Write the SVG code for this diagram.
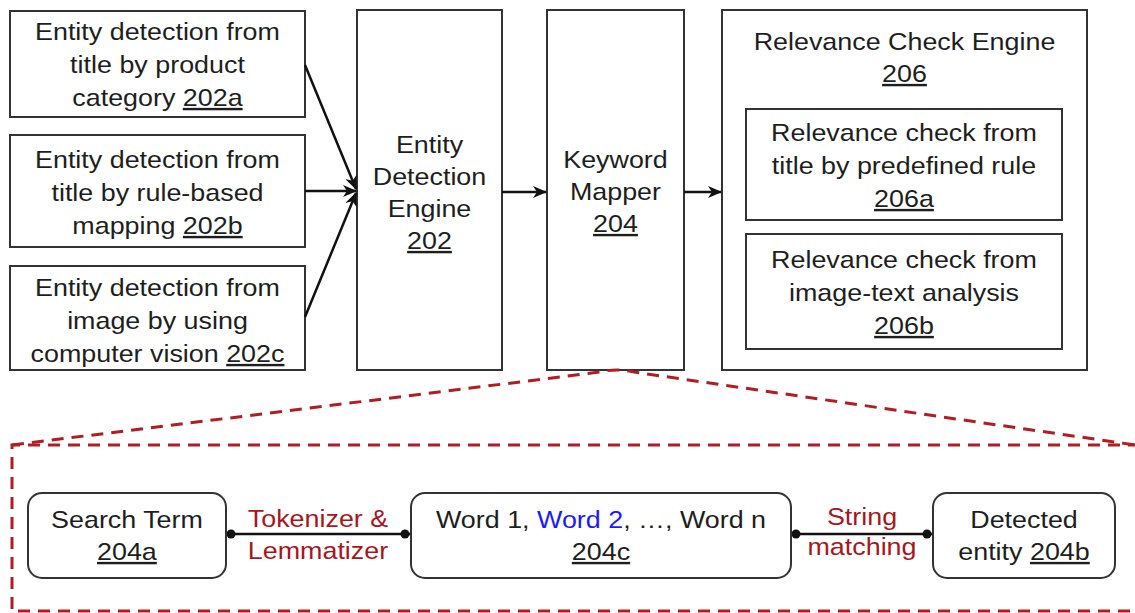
<svg xmlns="http://www.w3.org/2000/svg" width="1135" height="613" viewBox="0 0 1135 613">
<style>
text{font-family:"Liberation Sans",Arial,sans-serif;font-size:24px;fill:#1e1e1e;text-anchor:middle;transform-box:fill-box;transform-origin:center;transform:scaleX(1.12)}
.box{fill:#fff;stroke:#333;stroke-width:2}
.rbox{fill:#fff;stroke:#333;stroke-width:2}
.arr{fill:none;stroke:#111;stroke-width:2.5;marker-end:url(#ah)}
.red{fill:#a8161d}
.dash{fill:none;stroke:#b11d22;stroke-width:3;stroke-dasharray:12 8}
.link{stroke:#111;stroke-width:2.5}
.dot{fill:#111}
.u{text-decoration:underline}
.blue{fill:#1a1aff}
</style>
<defs>
<marker id="ah" markerWidth="14" markerHeight="12" refX="13" refY="6" orient="auto" markerUnits="userSpaceOnUse">
<path d="M0,0 L14,6 L0,12 L4,6 z" fill="#111"/>
</marker>
</defs>
<g id="n202a"><rect class="box" x="10" y="11" width="295" height="106"/>
<text x="157.5" y="40">Entity detection from</text><text x="157.5" y="73">title by product</text><text x="157.5" y="106">category <tspan class="u">202a</tspan></text></g>
<g id="n202b"><rect class="box" x="10" y="135" width="295" height="112"/>
<text x="157.5" y="168">Entity detection from</text><text x="157.5" y="201">title by rule-based</text><text x="157.5" y="234">mapping <tspan class="u">202b</tspan></text></g>
<g id="n202c"><rect class="box" x="10" y="266" width="295" height="104"/>
<text x="157.5" y="296">Entity detection from</text><text x="157.5" y="329">image by using</text><text x="157.5" y="362">computer vision <tspan class="u">202c</tspan></text></g>
<g id="n202"><rect class="box" x="357" y="10" width="145" height="360"/>
<text x="429.5" y="153">Entity</text><text x="429.5" y="185">Detection</text><text x="429.5" y="217">Engine</text><text x="429.5" y="249" class="u">202</text></g>
<g id="n204"><rect class="box" x="547" y="10" width="137" height="360"/>
<text x="615.5" y="168">Keyword</text><text x="615.5" y="200">Mapper</text><text x="615.5" y="232" class="u">204</text></g>
<g id="n206"><rect class="box" x="722" y="10" width="365" height="360"/>
<text x="904.5" y="50">Relevance Check Engine</text><text x="904.5" y="82" class="u">206</text></g>
<g id="n206a"><rect class="box" x="746" y="109" width="316" height="111"/>
<text x="904" y="141">Relevance check from</text><text x="904" y="174">title by predefined rule</text><text x="904" y="207" class="u">206a</text></g>
<g id="n206b"><rect class="box" x="746" y="234" width="316" height="115"/>
<text x="904" y="268">Relevance check from</text><text x="904" y="301">image-text analysis</text><text x="904" y="334" class="u">206b</text></g>
<g id="connectors">
<line class="arr" x1="305" y1="65" x2="356" y2="189"/>
<line class="arr" x1="305" y1="191" x2="356" y2="191"/>
<line class="arr" x1="305" y1="317" x2="356" y2="193"/>
<line class="arr" x1="502" y1="192" x2="546" y2="192"/>
<line class="arr" x1="684" y1="192" x2="721" y2="192"/>
<path class="dash" d="M12,445 L600,372 Q617,368 634,372 L1135,445"/>
<path class="dash" d="M1140,445 H12 V611 H1140"/>
<line class="link" x1="226" y1="534" x2="410" y2="534"/>
<circle class="dot" cx="231" cy="534" r="4.5"/><circle class="dot" cx="405" cy="534" r="4.5"/>
<line class="link" x1="791" y1="534" x2="933" y2="534"/>
<circle class="dot" cx="796" cy="534" r="4.5"/><circle class="dot" cx="927" cy="534" r="4.5"/>
<text class="red" x="318" y="527">Tokenizer &amp;</text><text class="red" x="318" y="559">Lemmatizer</text>
<text class="red" x="862" y="525">String</text><text class="red" x="862" y="555">matching</text>
</g>
<g id="n204a"><rect class="rbox" x="28" y="493" width="198" height="85" rx="14"/>
<text x="127" y="528">Search Term</text><text x="127" y="560" class="u">204a</text></g>
<g id="n204c"><rect class="rbox" x="411" y="493" width="380" height="85" rx="14"/>
<text x="601" y="528">Word 1, <tspan class="blue">Word 2</tspan>, …, Word n</text><text x="601" y="560" class="u">204c</text></g>
<g id="n204b"><rect class="rbox" x="933" y="493" width="182" height="85" rx="14"/>
<text x="1024" y="528">Detected</text><text x="1024" y="560">entity <tspan class="u">204b</tspan></text></g>
</svg>
